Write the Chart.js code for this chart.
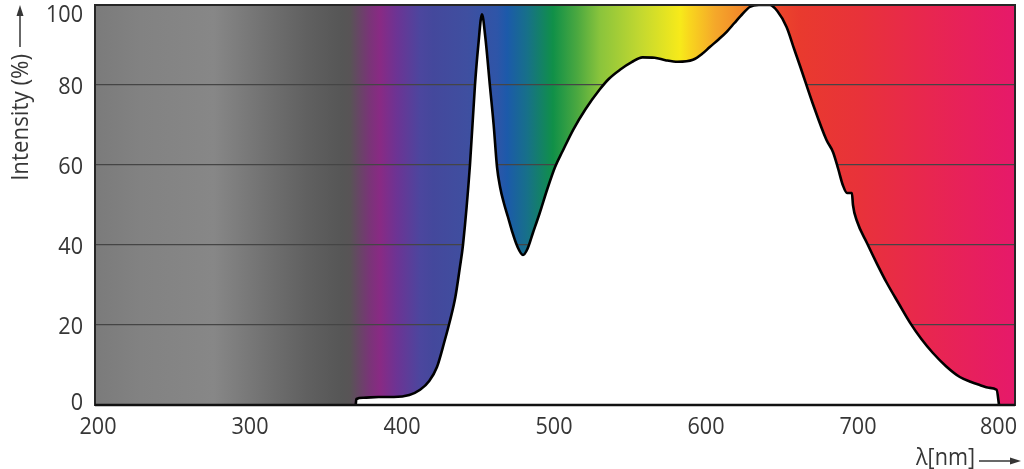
<!DOCTYPE html>
<html>
<head>
<meta charset="utf-8">
<script src="https://cdn.jsdelivr.net/npm/chart.js@4/dist/chart.umd.min.js"></script>
<style>
html,body{margin:0;padding:0;background:#fff;}
#wrap{width:1024px;height:469px;}
</style>
</head>
<body>
<div id="wrap"><canvas id="c" width="1024" height="469"></canvas></div>
<script>
// ---- data ----
const wavelengths = [369.5,370.0,374.6,384.6,394.7,404.8,411.9,417.9,423.0,428.0,431.5,435.1,438.1,440.1,444.7,448.0,450.2,452.6,454.8,457.9,460.3,462.5,464.5,467.0,469.7,472.5,475.7,479.6,482.5,486.1,490.6,495.6,500.7,505.7,512.6,520.8,529.9,536.0,543.4,551.1,558.2,566.2,573.3,581.4,591.4,597.5,602.5,608.6,613.6,618.7,622.7,628.8,634.8,641.9,646.9,653.0,658.0,662.1,670.1,679.2,683.6,687.0,690.0,692.8,696.0,696.7,699.3,705.9,712.5,719.0,726.6,734.2,741.7,749.3,757.9,767.0,774.0,780.1,786.1,791.2,792.8];
const intensity   = [0,1.5,1.8,2,2,2.5,3.8,6,9.5,16,21,27,34.5,40,60,80,90,97.7,92,79.5,70,59.5,54.5,50.5,47,43.3,39.8,37.5,39,43,48,54,59.5,63.5,68.8,74,78.8,81.5,83.8,85.7,86.9,86.8,86.2,85.8,86.3,87.8,89.5,91.5,93.3,95.5,97.2,99.5,100,100,98.5,94.5,89,84.5,75.5,66.3,63.2,59,55,53,53,50,46,40.5,35.3,30.5,25.5,20.6,16.5,13,9.7,7,5.8,5,4.3,3.8,0];
const xTickValues = [200,300,400,500,600,700,800];
const yTickValues = [0,20,40,60,80,100];
const xTitle = 'λ[nm]';
const yTitle = 'Intensity (%)';
const spectrumWavelengths = [198,228,276,313.2,337.5,360.5,365.8,378.9,385.5,396.7,411.8,420.4,442.8,462.5,469.1,482.2,499.3,515.1,530.3,556.6,583.0,589.5,606,622.4,642.1,661.8,701.3,747.4,803.3];
const spectrumColors = ['#7b7b7b','#828282','#878787','#6f6f6f','#606060','#565656','#585456','#7a3478','#892a84','#6c3494','#4c469e','#44489c','#3f4fa0','#2e55a8','#1c5aaa','#17708a','#109048','#4aa840','#8ac43c','#c2d830','#f7ea1a','#f8d51e','#f5a82a','#f28a2a','#ec4a2a','#e93a2e','#e8323a','#e82650','#e6196a'];

const points = wavelengths.map((w,i)=>({x:w,y:intensity[i]}));
const FONT = '"Open Sans", "Noto Sans", sans-serif';
const TXT = '#363636';

function txt(ctx,s,x,y,align,sx){
  ctx.save();ctx.translate(x,y);ctx.scale(sx,1);ctx.textAlign=align;ctx.fillText(s,0,0);ctx.restore();
}

const spectrumBg = {
  id:'spectrumBg',
  beforeDraw(chart){
    const {ctx, chartArea:a, scales:{x}} = chart;
    const g = ctx.createLinearGradient(a.left,0,a.right,0);
    spectrumWavelengths.forEach((w,i)=>{
      let t=(x.getPixelForValue(w)-a.left)/(a.right-a.left);
      t=Math.max(0,Math.min(1,t));
      g.addColorStop(t,spectrumColors[i]);
    });
    ctx.save();
    ctx.fillStyle=g;
    ctx.fillRect(a.left,a.top,a.right-a.left,a.bottom-a.top);
    ctx.restore();
  }
};

const decor = {
  id:'decor',
  afterDraw(chart){
    const {ctx, chartArea:a, scales:{x,y}} = chart;
    ctx.save();
    // frame
    ctx.strokeStyle='#262626';
    ctx.lineWidth=2;
    ctx.strokeRect(a.left,a.top,a.right-a.left,a.bottom-a.top);
    ctx.lineWidth=2.6;
    ctx.strokeStyle='#111';
    ctx.beginPath();ctx.moveTo(a.left,a.bottom);ctx.lineTo(a.right,a.bottom);ctx.stroke();
    ctx.fillStyle=TXT;
    ctx.font='24px '+FONT;
    ctx.textBaseline='middle';
    // y tick labels
    yTickValues.forEach(v=>{
      let py=y.getPixelForValue(v)+2;
      py=Math.max(a.top+10,Math.min(a.bottom-2,py));
      txt(ctx,String(v),83,py,'right',0.9);
    });
    // x tick labels
    xTickValues.forEach((v,i)=>{
      const px=x.getPixelForValue(v);
      if(i===xTickValues.length-1) txt(ctx,String(v),1017,427,'right',0.9);
      else txt(ctx,String(v),px,427,'center',0.9);
    });
    // x title + arrow
    txt(ctx,xTitle,975,458,'right',0.9);
    ctx.strokeStyle=TXT;ctx.lineWidth=1.5;
    ctx.beginPath();ctx.moveTo(979,461);ctx.lineTo(1012,461);ctx.stroke();
    ctx.beginPath();ctx.moveTo(1021,461);ctx.lineTo(1010,457.5);ctx.lineTo(1010,464.5);ctx.closePath();ctx.fill();
    // y title + arrow
    ctx.save();
    ctx.translate(21,54);
    ctx.rotate(-Math.PI/2);
    ctx.font='23px '+FONT;
    ctx.textBaseline='middle';
    txt(ctx,yTitle,0,0,'right',0.97);
    ctx.restore();
    ctx.beginPath();ctx.moveTo(20,47);ctx.lineTo(20,14);ctx.stroke();
    ctx.beginPath();ctx.moveTo(20,5);ctx.lineTo(16.5,16);ctx.lineTo(23.5,16);ctx.closePath();ctx.fill();
    ctx.restore();
  }
};

new Chart(document.getElementById('c'),{
  type:'line',
  data:{datasets:[{
    data:points,
    borderColor:'#000',
    borderWidth:2.6,
    backgroundColor:'#ffffff',
    fill:'origin',
    pointRadius:0,
    cubicInterpolationMode:'monotone'
  }]},
  options:{
    responsive:false,
    animation:false,
    devicePixelRatio:1,
    layout:{autoPadding:false,padding:{left:0,right:9,top:5,bottom:0}},
    plugins:{legend:{display:false},tooltip:{enabled:false},title:{display:false}},
    scales:{
      x:{
        type:'linear',min:198,max:803.3,
        afterBuildTicks(s){s.ticks=xTickValues.map(v=>({value:v}));},
        afterFit(s){s.height=64;},
        grid:{display:false,drawTicks:false},
        border:{display:false},
        ticks:{display:false}
      },
      y:{
        min:0,max:100,
        afterBuildTicks(s){s.ticks=yTickValues.map(v=>({value:v}));},
        afterFit(s){s.width=95;},
        grid:{color:'#454545',lineWidth:1.2,drawTicks:false},
        border:{display:false},
        ticks:{display:false}
      }
    }
  },
  plugins:[spectrumBg,decor]
});
</script>
</body>
</html>
